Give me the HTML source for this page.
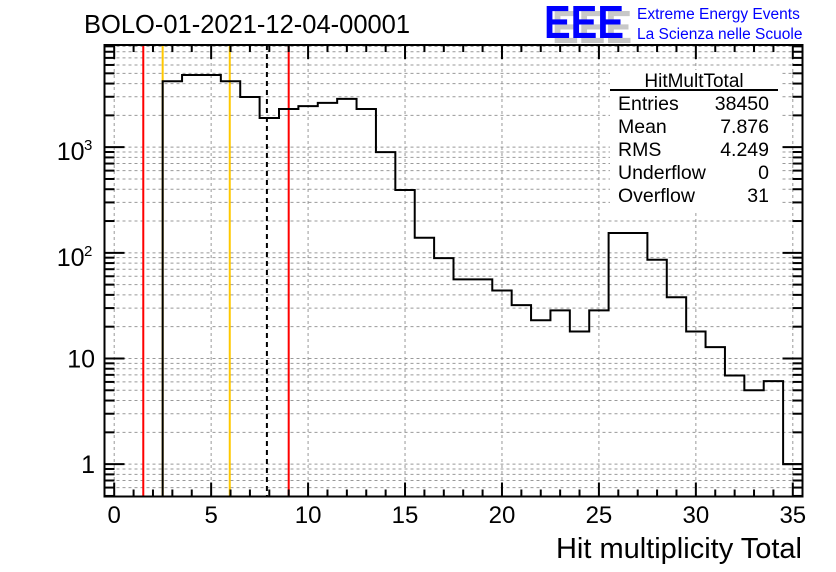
<!DOCTYPE html>
<html><head><meta charset="utf-8"><style>
html,body{margin:0;padding:0;background:#fff;}
svg{display:block;font-family:"Liberation Sans",sans-serif;}
</style></head><body>
<svg id="c" width="836" height="572" xmlns="http://www.w3.org/2000/svg"></svg>
<script>
const binEdgesStart = 2.5;
const binValues = [4210,4820,4820,4210,2985,1890,2300,2445,2625,2865,2300,897,393,139,89,56,56,44,32,23,28.5,18,28.5,154,154,86,38,18,12.8,6.9,5,6.1,1];
const xTicks = [0,5,10,15,20,25,30,35];
const yTicks = [1,10,100,1000];
const yTickLabels = ["1","10","10","10"];
const yTickExp = ["","","2","3"];
const redLines = [1.5,9];
const orangeLines = [2.5,5.96];
const meanLine = [7.876];
const statsLabels = ["Entries","Mean","RMS","Underflow","Overflow"];
const statsValues = ["38450","7.876","4.249","0","31"];

const L=104.5,R=802.5,T=45,B=496.5;
const xmin=-0.5,xmax=35.5,ymin=Math.log10(0.494),ymax=Math.log10(9270);
const X=v=>L+(v-xmin)/(xmax-xmin)*(R-L);
const Y=v=>B-(Math.log10(v)-ymin)/(ymax-ymin)*(B-T);
const svg=document.getElementById('c');
const NS="http://www.w3.org/2000/svg";
function mk(tag,attrs,parent){const e=document.createElementNS(NS,tag);for(const k in attrs)e.setAttribute(k,attrs[k]);(parent||svg).appendChild(e);return e;}

const grid=mk('g',{stroke:'#999','stroke-dasharray':'3,3','stroke-width':1});


xTicks.forEach(t=>mk('line',{x1:X(t),x2:X(t),y1:T,y2:B},grid));
for(let d=-1;d<=3;d++)for(let k=1;k<=9;k++){const v=k*Math.pow(10,d);if(v<0.494||v>9270)continue;mk('line',{x1:L,x2:R,y1:Y(v),y2:Y(v)},grid);}

redLines.forEach(v=>{const l=mk('line',{x1:X(v),x2:X(v),y1:T,y2:B,stroke:'#f00','stroke-width':2});});
orangeLines.forEach(v=>{const l=mk('line',{x1:X(v),x2:X(v),y1:T,y2:B,stroke:'#ffc800','stroke-width':2});});
meanLine.forEach(v=>{const l=mk('line',{x1:X(v),x2:X(v),y1:T,y2:B,stroke:'#000','stroke-width':2,'stroke-dasharray':'5,4'});});

let d='M'+X(binEdgesStart)+','+B;
binValues.forEach((v,i)=>{const x0=X(binEdgesStart+i),x1=X(binEdgesStart+i+1);d+=' L'+x0+','+Y(v)+' L'+x1+','+Y(v);});
d+=' L'+X(binEdgesStart+binValues.length)+','+B;
const h=mk('path',{d:d,fill:'none',stroke:'#000','stroke-width':2});



const ax=mk('g',{stroke:'#000','stroke-width':2});


mk('rect',{x:L,y:T,width:R-L,height:B-T,fill:'none'},ax);
for(let t=0;t<=35;t++){const len=(t%5===0)?14:7;mk('line',{x1:X(t),x2:X(t),y1:B,y2:B-len},ax);mk('line',{x1:X(t),x2:X(t),y1:T,y2:T+len},ax);}
for(let dd=-1;dd<=3;dd++)for(let k=1;k<=9;k++){const v=k*Math.pow(10,dd);if(v<0.494||v>9270)continue;const len=k===1?20:10;mk('line',{x1:L,x2:L+len,y1:Y(v),y2:Y(v)},ax);mk('line',{x1:R,x2:R-len,y1:Y(v),y2:Y(v)},ax);}

xTicks.forEach(t=>{const e=mk('text',{x:X(t),y:523,'font-size':24,'text-anchor':'middle'});e.textContent=t;});
yTicks.forEach((t,i)=>{const e=mk('text',{x:yTickExp[i]?84.5:95,y:Y(t)+(yTickExp[i]?13:9),'font-size':25,'text-anchor':'end'});e.textContent=yTickLabels[i];
 if(yTickExp[i]){const s=mk('text',{x:84,y:Y(t)+3,'font-size':15});s.textContent=yTickExp[i];}});

const xt=mk('text',{x:802,y:558,'font-size':29,'text-anchor':'end'});xt.textContent='Hit multiplicity Total';

const tt=mk('text',{x:84,y:33,'font-size':25.5});tt.textContent='BOLO-01-2021-12-04-00001';


const lg=mk('g',{});

const sh=mk('text',{x:552,y:43,'font-size':46,'font-weight':'bold',fill:'#c8c8c8',textLength:80,lengthAdjust:'spacingAndGlyphs'},lg);sh.textContent='EEE';
const bl=mk('text',{x:544,y:38,'font-size':46,'font-weight':'bold',fill:'#0000ff',textLength:80,lengthAdjust:'spacingAndGlyphs'},lg);bl.textContent='EEE';
const l1=mk('text',{x:637,y:19,'font-size':15.5,fill:'#0000ff'},lg);l1.textContent='Extreme Energy Events';
const l2=mk('text',{x:637,y:39,'font-size':15.5,fill:'#0000ff'},lg);l2.textContent='La Scienza nelle Scuole';

const sb=mk('g',{});

mk('rect',{x:610,y:70,width:170,height:140,fill:'#fff'},sb);
const st=mk('text',{x:694,y:87,'font-size':19,'text-anchor':'middle'},sb);st.textContent='HitMultTotal';
mk('line',{x1:610,x2:778,y1:90,y2:90,stroke:'#000','stroke-width':2},sb);
statsLabels.forEach((s,i)=>{const y=110+i*23;const a=mk('text',{x:618,y:y,'font-size':19.5},sb);a.textContent=s;const b=mk('text',{x:769,y:y,'font-size':19.5,'text-anchor':'end'},sb);b.textContent=statsValues[i];});
</script>
</body></html>
